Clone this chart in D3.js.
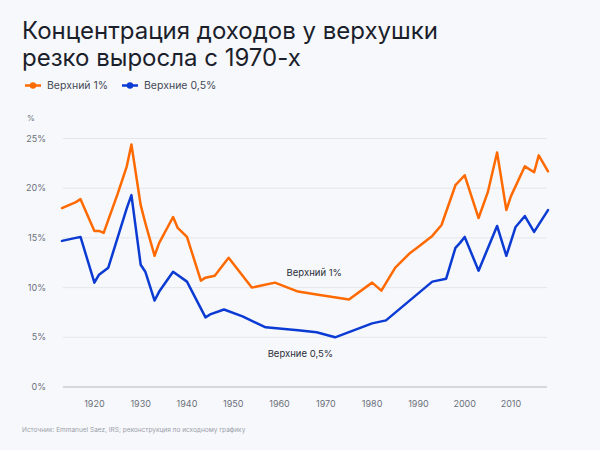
<!DOCTYPE html>
<html>
<head>
<meta charset="utf-8">
<script src="https://cdn.jsdelivr.net/npm/d3@7"></script>
<style>
  html, body { margin: 0; padding: 0; background: #f7f8fc; }
  svg { display: block; font-family: Inter, "Noto Sans", sans-serif; }
</style>
</head>
<body>
<svg id="chart" width="600" height="450"></svg>
<script>
// data
var years1 = [1913, 1916, 1917, 1920, 1921, 1922, 1925, 1927, 1928, 1930, 1931, 1933, 1934,
  1937, 1938, 1940, 1943, 1944, 1946, 1949, 1954, 1959, 1964, 1968, 1975, 1980, 1982, 1985,
  1988, 1990, 1993, 1995, 1998, 1999, 2000, 2003, 2005, 2007, 2009, 2010, 2013, 2015, 2016, 2018];
var top1 = [18.0, 18.6, 18.9, 15.7, 15.7, 15.5, 19.4, 22.2, 24.4, 18.3, 16.5, 13.2, 14.5,
  17.1, 16.0, 15.1, 10.7, 11.0, 11.2, 13.0, 10.0, 10.5, 9.6, 9.3, 8.8, 10.5, 9.7, 12.0,
  13.4, 14.1, 15.2, 16.3, 20.3, 20.8, 21.3, 17.0, 19.6, 23.6, 17.8, 19.2, 22.2, 21.6, 23.3, 21.7];

var years2 = [1913, 1916, 1917, 1920, 1921, 1923, 1927, 1928, 1930, 1931, 1933, 1934, 1937,
  1940, 1944, 1945, 1948, 1952, 1957, 1964, 1968, 1972, 1980, 1983, 1993, 1996, 1998, 1999,
  2000, 2003, 2007, 2009, 2011, 2013, 2015, 2018];
var top05 = [14.7, 15.0, 15.1, 10.5, 11.3, 12.0, 18.0, 19.3, 12.3, 11.6, 8.7, 9.6, 11.6,
  10.6, 7.0, 7.3, 7.8, 7.1, 6.0, 5.7, 5.5, 5.0, 6.4, 6.7, 10.6, 10.9, 14.0, 14.5,
  15.1, 11.7, 16.2, 13.2, 16.1, 17.2, 15.6, 17.8];

var seriesNames = ["Верхний 1%", "Верхние 0,5%"];
var seriesColors = ["#ff6a00", "#0b3bd3"];
var yTicks = [0, 5, 10, 15, 20, 25];
var xTicks = [1920, 1930, 1940, 1950, 1960, 1970, 1980, 1990, 2000, 2010];
// inline labels: [year, value]
var labelPos = [[1967.5, 11.5], [1964.5, 3.4]];

var svg = d3.select("#chart");

svg.append("rect").attr("width", 600).attr("height", 450).attr("fill", "#f7f8fc");

var x = d3.scaleLinear().domain([1913, 2018]).range([62, 548]);
var y = d3.scaleLinear().domain([0, 25]).range([387, 138.5]);

// title
var title = svg.append("text")
  .attr("fill", "#1b1f2b")
  .attr("font-size", 24)
  .attr("font-weight", 400);
title.append("tspan").attr("x", 22).attr("y", 39).text("Концентрация доходов у верхушки");
title.append("tspan").attr("x", 22).attr("y", 66).text("резко выросла с 1970-х");

// legend
var legend = svg.append("g").attr("transform", "translate(0,85.5)");
var legX = [25, 122];
seriesNames.forEach(function (name, i) {
  var g = legend.append("g").attr("transform", "translate(" + legX[i] + ",0)");
  g.append("line").attr("x1", 0).attr("x2", 16)
    .attr("stroke", seriesColors[i]).attr("stroke-width", 2.5);
  g.append("circle").attr("cx", 8).attr("r", 3.2).attr("fill", seriesColors[i]);
  g.append("text").attr("x", 22).attr("dy", "0.35em")
    .attr("font-size", 10.5).attr("fill", "#454a55").text(name);
});

// unit label
svg.append("text").attr("x", 27).attr("y", 121)
  .attr("font-size", 8).attr("fill", "#6b707a").text("%");

// gridlines and y labels
var yAxis = svg.append("g");
yAxis.selectAll("line").data(yTicks).enter().append("line")
  .attr("x1", 63).attr("x2", 547)
  .attr("y1", function (d) { return y(d); })
  .attr("y2", function (d) { return y(d); })
  .attr("stroke", function (d) { return d === 0 ? "#d6d8de" : "#e4e6ec"; })
  .attr("stroke-width", function (d) { return d === 0 ? 2 : 1; });
yAxis.selectAll("text").data(yTicks).enter().append("text")
  .attr("x", 46)
  .attr("y", function (d) { return y(d); })
  .attr("dy", "0.35em")
  .attr("text-anchor", "end")
  .attr("font-size", 9)
  .attr("fill", "#6b707a")
  .text(function (d) { return d + "%"; });

// x labels
svg.append("g").selectAll("text").data(xTicks).enter().append("text")
  .attr("x", function (d) { return x(d); })
  .attr("y", 407)
  .attr("text-anchor", "middle")
  .attr("font-size", 9)
  .attr("fill", "#6b707a")
  .text(function (d) { return d; });

// lines
var line = d3.line()
  .x(function (d) { return x(d[0]); })
  .y(function (d) { return y(d[1]); });

var series = [d3.zip(years1, top1), d3.zip(years2, top05)];
series.forEach(function (pts, i) {
  svg.append("path")
    .attr("d", line(pts))
    .attr("fill", "none")
    .attr("stroke", seriesColors[i])
    .attr("stroke-width", 2.5)
    .attr("stroke-linejoin", "round")
    .attr("stroke-linecap", "round");
});

// inline series labels
labelPos.forEach(function (p, i) {
  svg.append("text")
    .attr("x", x(p[0])).attr("y", y(p[1]))
    .attr("text-anchor", "middle")
    .attr("dy", "0.35em")
    .attr("font-size", 9.5)
    .attr("fill", "#2a2e38")
    .text(seriesNames[i]);
});

// source
svg.append("text").attr("x", 22).attr("y", 432)
  .attr("font-size", 6.5).attr("fill", "#9a9ea8")
  .text("Источник: Emmanuel Saez, IRS; реконструкция по исходному графику");
</script>
</body>
</html>
